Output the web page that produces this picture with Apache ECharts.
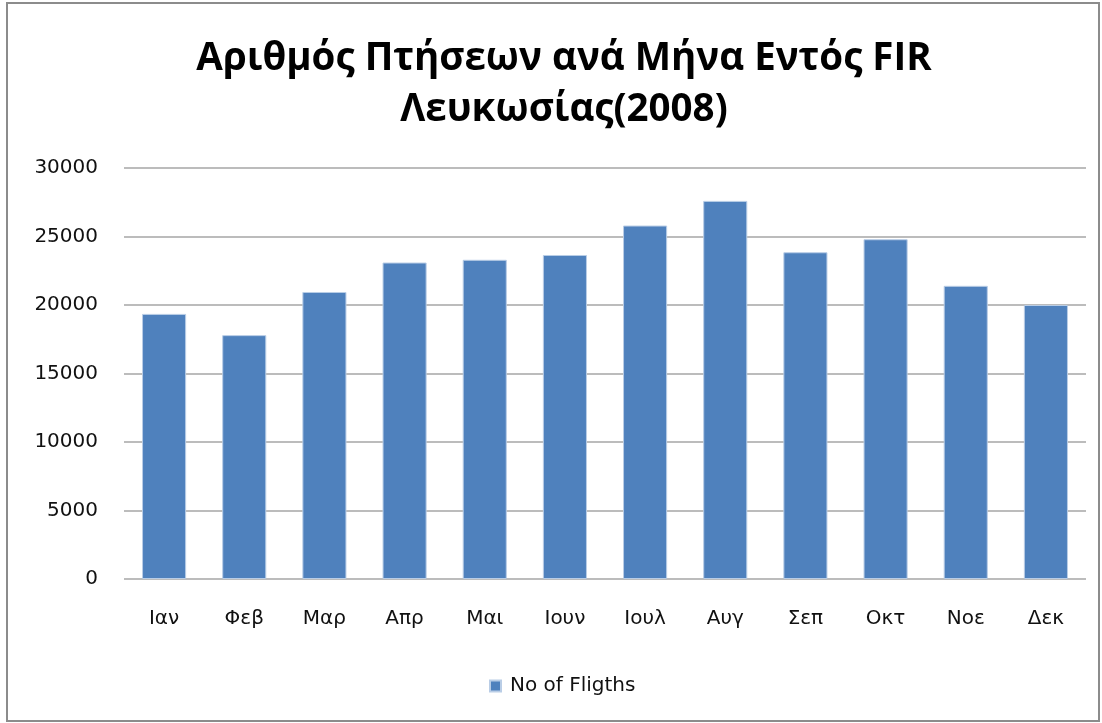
<!DOCTYPE html>
<html>
<head>
<meta charset="utf-8">
<script src="https://cdn.jsdelivr.net/npm/echarts@6/dist/echarts.min.js"></script>
<style>
html, body { margin: 0; padding: 0; background: #fff; }
#main { width: 1102px; height: 723px; }
</style>
</head>
<body>
<div id="main"></div>
<script>
// μήνες και πτήσεις 2008
var months = ['Ιαν', 'Φεβ', 'Μαρ', 'Απρ', 'Μαι', 'Ιουν', 'Ιουλ', 'Αυγ', 'Σεπ', 'Οκτ', 'Νοε', 'Δεκ'];
var flights = [19350, 17800, 20950, 23100, 23300, 23650, 25800, 27600, 23850, 24800, 21400, 20000];
var seriesName = 'No of Fligths';
var titleText = 'Αριθμός Πτήσεων ανά Μήνα Εντός FIR\nΛευκωσίας(2008)';

var labelFont = '"DejaVu Sans", sans-serif';

var myChart = echarts.init(document.getElementById('main'));
var option = {
    backgroundColor: '#fff',
    animation: false,
    title: {
        text: titleText,
        left: 559,
        textAlign: 'center',
        top: 29,
        textStyle: {
            fontFamily: '"Open Sans", sans-serif',
            fontWeight: 'bold',
            fontSize: 38.5,
            lineHeight: 51,
            color: '#000'
        }
    },
    graphic: [{
        type: 'rect',
        shape: { x: 7, y: 3, width: 1092, height: 718 },
        style: { fill: 'none', stroke: '#8c8c8c', lineWidth: 2 },
        silent: true
    }],
    legend: {
        bottom: 22,
        left: 484,
        icon: 'rect',
        itemWidth: 11,
        itemHeight: 11,
        itemGap: 8,
        data: [seriesName],
        textStyle: { fontFamily: labelFont, fontSize: 20, color: '#111', padding: [0, 0, 0, 4] }
    },
    grid: {
        left: 124,
        right: 16,
        top: 168,
        bottom: 144
    },
    xAxis: {
        type: 'category',
        data: months,
        axisLine: { show: false },
        axisTick: { show: false },
        axisLabel: {
            margin: 30,
            fontFamily: labelFont,
            fontSize: 20,
            color: '#111'
        }
    },
    yAxis: {
        type: 'value',
        min: 0,
        max: 30000,
        interval: 5000,
        axisLine: { show: false },
        axisTick: { show: false },
        axisLabel: {
            margin: 26,
            fontFamily: labelFont,
            fontSize: 20,
            color: '#111',
            formatter: function (v) { return String(v); }
        },
        splitLine: {
            lineStyle: { color: '#a6a6a6', width: 1.5 }
        }
    },
    series: [{
        name: seriesName,
        type: 'bar',
        barWidth: '55%',
        data: flights,
        itemStyle: {
            color: '#4f81bd',
            borderColor: '#b9cde6',
            borderWidth: 1
        }
    }]
};
myChart.setOption(option);
</script>
</body>
</html>
